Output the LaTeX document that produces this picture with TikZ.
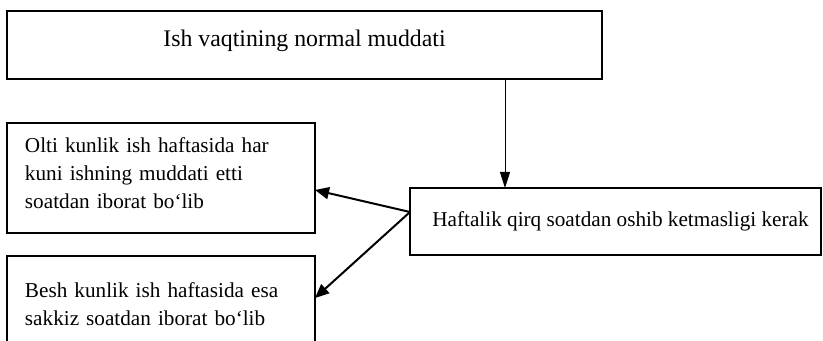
\documentclass[tikz,border=0pt]{standalone}
\usepackage{fontspec}
\setmainfont{Liberation Serif}
\usetikzlibrary{positioning,arrows.meta}

\begin{document}
\begin{tikzpicture}[x=0.5pt,y=-0.5pt]
	\tikzstyle{box}=[rectangle,draw,line width=0.75pt,inner sep=0pt,outer sep=0pt]
	\tikzstyle{txt}=[font=\fontsize{10.6}{14}\selectfont]
	\tikzstyle{arr}=[-{Triangle[length=7pt,width=6pt]},line width=1pt]
	\clip (0,0) rectangle (823,341);
		\node[box, minimum width=297.5pt, minimum height=34pt, text depth=6.5pt, font=\fontsize{11.9}{14}\selectfont, anchor=north west] (asos) at (7,11) {Ish vaqtining normal muddati};
		\node[box, txt, text width=136pt, align=left, inner xsep=9pt, minimum height=55pt, execute at end node={\vspace{5pt}}] (olti) [below right=22pt and 0pt of asos.south west] {Olti kunlik ish haftasida har\\kuni ishning muddati etti\\soatdan iborat bo‘lib};
		\node[box, txt, text width=136pt, align=left, inner xsep=9pt, minimum height=53pt, execute at end node={\vspace{5pt}}] (besh) [below=11.5pt of olti] {Besh kunlik ish haftasida esa\\sakkiz soatdan iborat bo‘lib};
		\node[box, txt, minimum width=205.5pt, minimum height=33.5pt, anchor=north west] (hafta) at (410,188) {\hspace*{5pt}Haftalik qirq soatdan oshib ketmasligi kerak};
			\draw[-{Triangle[length=8pt,width=5pt]}, line width=0.5pt] ([xshift=100.25pt]asos.south) -- ([xshift=100.25pt]asos.south |- hafta.north);
			\draw[arr] ([yshift=4.75pt]hafta.west) -- ([yshift=-6pt]olti.east);
			\draw[arr] ([yshift=4.75pt]hafta.west) -- ([yshift=5.5pt]besh.east);
\end{tikzpicture}
\end{document}
